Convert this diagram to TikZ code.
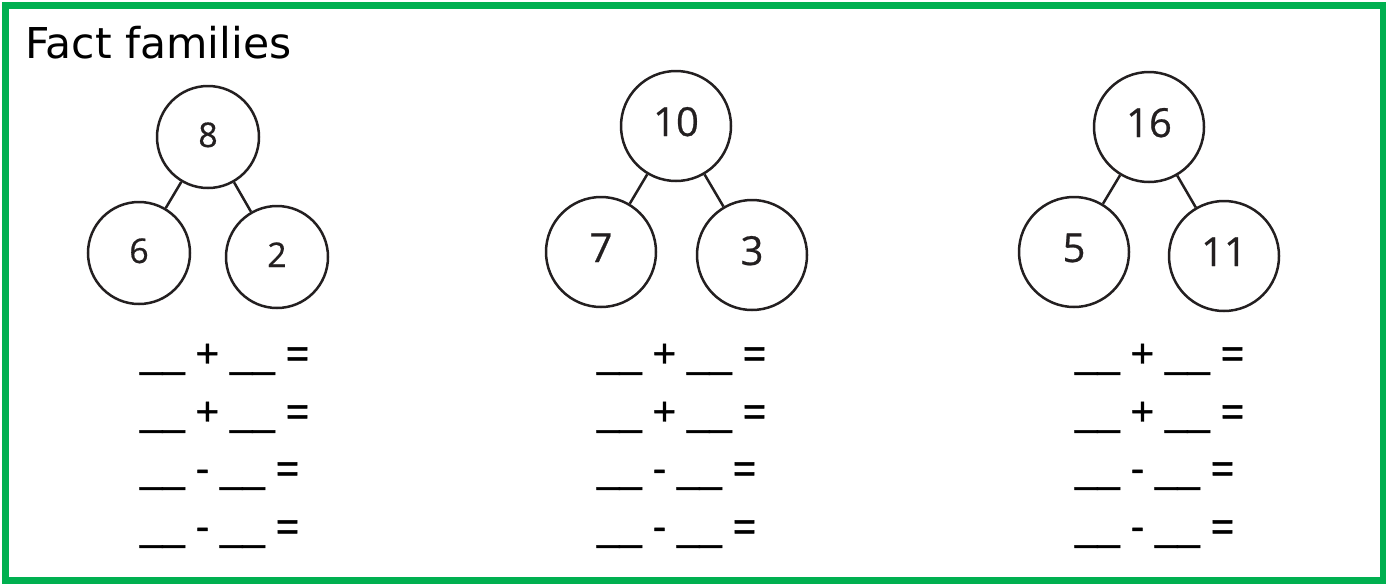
\documentclass[tikz,border=0pt]{standalone}
\usepackage{fontspec}
\setmainfont{Liberation Sans}
\newfontfamily\titlefont{DejaVu Sans}
\newfontfamily\digitfont{Open Sans}[FakeBold=0.6]
\newfontfamily\eqfont{Liberation Sans}[FakeBold=1.2]
\definecolor{framegreen}{HTML}{00B050}
\definecolor{ink}{HTML}{231F20}
\begin{document}
\begin{tikzpicture}[x=1pt,y=-1pt,
  bubble/.style={circle,draw=ink,line width=2.5pt,inner sep=0pt,text=ink},
  small/.style={bubble,minimum size=102pt,font=\digitfont\fontsize{34}{34}\selectfont,text height=24pt,text depth=4pt},
  big/.style={bubble,minimum size=110pt,font=\digitfont\fontsize{40}{40}\selectfont,text height=28pt,text depth=8pt},
  link/.style={draw=ink,line width=2.5pt},
  eqrow/.style={anchor=base west,inner sep=0pt,font=\eqfont\fontsize{40}{40}\selectfont}]
\useasboundingbox (0,0) rectangle (1386,584);
\fill[white] (0,0) rectangle (1386,584);
\draw[framegreen,line width=7pt] (5.5,5.5) rectangle (1383,580.5);
\node[anchor=base west,inner sep=0pt,font=\titlefont\fontsize{42.5}{42.5}\selectfont] (title) at (25,58) {Fact families};
% tree 1
\node[small] (a0) at (208,137) {8};
\node[small] (a1) at (139,253) {6};
\node[small] (a2) at (277,257) {2};
\draw[link] (a0) -- (a1);
\draw[link] (a0) -- (a2);
% tree 2
\node[big] (b0) at (676,126) {10};
\node[big] (b1) at (601,252) {7};
\node[big] (b2) at (752,255) {3};
\draw[link] (b0) -- (b1);
\draw[link] (b0) -- (b2);
% tree 3
\node[big] (c0) at (1149,127) {16};
\node[big] (c1) at (1074,252) {5};
\node[big] (c2) at (1224,256) {11};
\draw[link] (c0) -- (c1);
\draw[link] (c0) -- (c2);
% equations
\foreach \x/\n in {140/a,597/b,1075/c}{
  \node[eqrow] (\n e1) at (\x,367) {\_\_ + \_\_ =};
  \node[eqrow] (\n e2) at (\x,425) {\_\_ + \_\_ =};
  \node[eqrow] (\n e3) at (\x,482) {\_\_ - \_\_ =};
  \node[eqrow] (\n e4) at (\x,540) {\_\_ - \_\_ =};
}
\end{tikzpicture}
\end{document}
